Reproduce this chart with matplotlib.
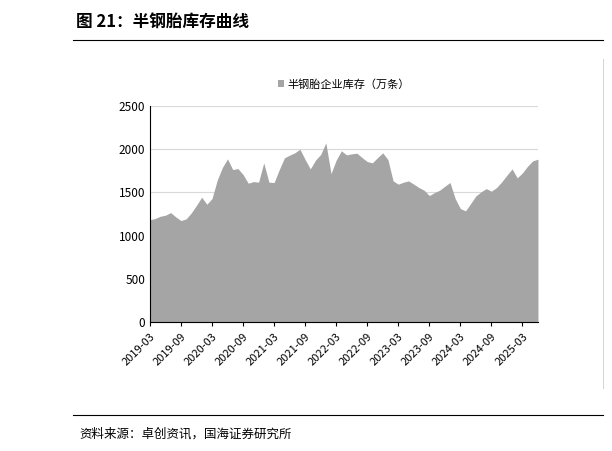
import matplotlib.pyplot as plt
import numpy as np

plt.rcParams['font.family'] = ['Noto Sans CJK SC', 'DejaVu Sans']

values = [1185, 1197, 1224, 1236, 1266, 1216, 1174, 1193, 1263, 1351, 1444, 1363,
          1429, 1641, 1788, 1888, 1764, 1776, 1707, 1606, 1625, 1618, 1842, 1618,
          1614, 1764, 1900, 1931, 1958, 2000, 1880, 1772, 1873, 1938, 2073, 1718,
          1873, 1981, 1934, 1946, 1954, 1903, 1857, 1842, 1903, 1958, 1880, 1633,
          1595, 1618, 1633, 1595, 1556, 1525, 1463, 1498, 1525, 1571, 1614, 1429,
          1313, 1286, 1371, 1459, 1506, 1544, 1514, 1556, 1622, 1699, 1772, 1668,
          1726, 1803, 1865, 1884]
tick_labels = ["2019-03", "2019-09", "2020-03", "2020-09", "2021-03", "2021-09",
               "2022-03", "2022-09", "2023-03", "2023-09", "2024-03", "2024-09",
               "2025-03"]

x = np.arange(len(values))

fig = plt.figure(figsize=(6.12, 4.51), dpi=100)
ax = fig.add_axes([0.245, 0.286, 0.634, 0.479])
ax.fill_between(x, values, 0, color="#a5a5a5", linewidth=0, label="半钢胎企业库存（万条）")
ax.set_xlim(0, len(values) - 1)
ax.set_ylim(0, 2500)
ax.set_yticks(range(0, 2501, 500))
ax.grid(axis="y", color="#d9d9d9", linewidth=0.8)
ax.set_axisbelow(True)
ax.set_xticks(x[::6])
ax.set_xticklabels(tick_labels, rotation=45, ha="right", rotation_mode="anchor", fontsize=8)
ax.tick_params(axis="y", labelsize=8.5, length=0)
ax.tick_params(axis="x", length=3, direction="out")
for s in ["top", "right"]:
    ax.spines[s].set_visible(False)
ax.legend(loc="lower center", bbox_to_anchor=(0.5, 1.03), frameon=False, fontsize=8,
          handlelength=0.6, handleheight=0.6, handletextpad=0.3)

fig.text(0.125, 0.94, "图 21：半钢胎库存曲线", fontsize=12, fontweight="bold")
fig.add_artist(plt.Line2D([0.12, 0.985], [0.912, 0.912], color="black", linewidth=0.8))
fig.add_artist(plt.Line2D([0.12, 0.985], [0.08, 0.08], color="black", linewidth=0.8))
fig.add_artist(plt.Line2D([0.985, 0.985], [0.14, 0.87], color="#cccccc", linewidth=0.6))
fig.text(0.13, 0.03, "资料来源：卓创资讯，国海证券研究所", fontsize=9)

fig.savefig("out.png", dpi=100)
